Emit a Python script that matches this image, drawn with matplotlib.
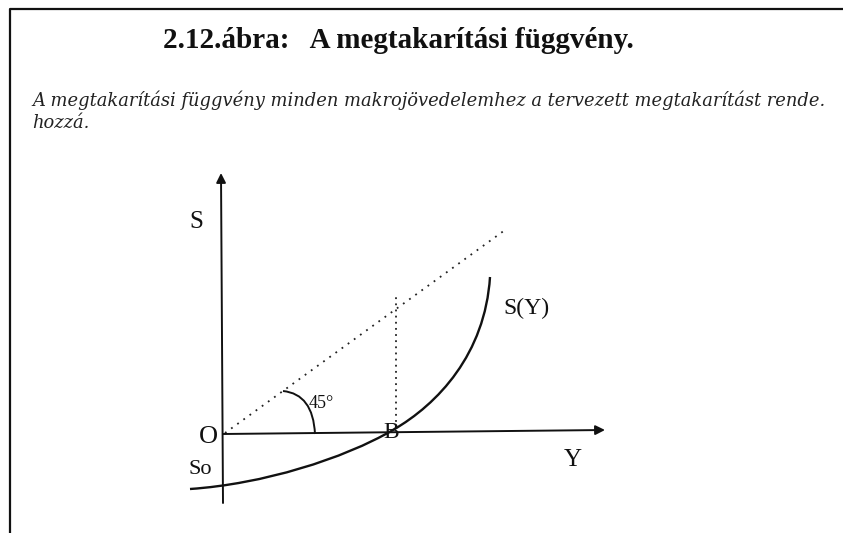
import numpy as np
import matplotlib.pyplot as plt
from matplotlib.path import Path
from matplotlib.patches import PathPatch

# coordinates in "scan pixels" measured from the origin O (x to the right, y up)
# S(Y) curve: two cubic pieces, So -> B and B -> top
curve_x = [-33, 40, 120, 170, 215, 262, 267]
curve_y = [-55, -50, -25, 4, 30, 80, 157]

# the 45 degree arc (quadratic piece)
arc_x = [60, 90, 92]
arc_y = [43, 40, 0]

diag_x = [2, 282]
diag_y = [1, 204]

vert_x = [173, 173]
vert_y = [6, 137]

xaxis_x = [0, 382]
xaxis_y = [0, 4]
yaxis_x = [0, -2]
yaxis_y = [-69, 261]

labels = ['S', 'O', 'So', 'Y', 'B', '45°', 'S(Y)']
label_x = [-27, -15, -23, 350, 168, 98, 303]
label_y = [212, -3, -36, -26, 1, 31, 126]
label_size = [18, 19, 16, 18, 17, 13, 17]

title = '2.12.ábra:   A megtakarítási függvény.'
note1 = 'A megtakarítási függvény minden makrojövedelemhez a tervezett megtakarítást rende.'
note2 = 'hozzá.'

fig = plt.figure(figsize=(8.43, 5.33), dpi=100)
ax = fig.add_axes([0, 0, 1, 1])
ax.set_xlim(-223, 620)
ax.set_ylim(-99, 434)
ax.axis('off')

# frame of the scanned page
ax.plot([-213, -213, 620], [-99, 425, 425], color='#111111', lw=1.6, solid_capstyle='butt')

serif = 'Liberation Serif'

fig.text(163 / 843, 1 - 40 / 533, title, family=serif, weight='bold', fontsize=21,
         va='center', ha='left', color='#111111')
fig.text(32 / 843, 1 - 100 / 533, note1, family='DejaVu Serif', style='italic', fontsize=12.9,
         va='center', ha='left', color='#222222')
fig.text(32 / 843, 1 - 123 / 533, note2, family='DejaVu Serif', style='italic', fontsize=12.9,
         va='center', ha='left', color='#222222')

# axes with arrows
ax.annotate('', xy=(xaxis_x[1], xaxis_y[1]), xytext=(xaxis_x[0], xaxis_y[0]),
            arrowprops=dict(arrowstyle='-|>', lw=1.4, color='#111111', mutation_scale=14,
                            shrinkA=0, shrinkB=0))
ax.annotate('', xy=(yaxis_x[1], yaxis_y[1]), xytext=(yaxis_x[0], yaxis_y[0]),
            arrowprops=dict(arrowstyle='-|>', lw=1.4, color='#111111', mutation_scale=14,
                            shrinkA=0, shrinkB=0))

codes = [Path.MOVETO] + [Path.CURVE4] * 6
ax.add_patch(PathPatch(Path(np.column_stack([curve_x, curve_y]), codes),
                       fill=False, ec='#111111', lw=1.7))
ax.add_patch(PathPatch(Path(np.column_stack([arc_x, arc_y]),
                            [Path.MOVETO, Path.CURVE3, Path.CURVE3]),
                       fill=False, ec='#111111', lw=1.4))

ax.plot(diag_x, diag_y, color='#222222', lw=1.3, ls=(0, (1, 3.2)))
ax.plot(vert_x, vert_y, color='#222222', lw=1.3, ls=(0, (1, 2.4)))

for t, x, y, s in zip(labels, label_x, label_y, label_size):
    ax.text(x, y, t, family=serif, fontsize=s, ha='center', va='center', color='#111111')

plt.savefig('out.png', dpi=100)
plt.close()
